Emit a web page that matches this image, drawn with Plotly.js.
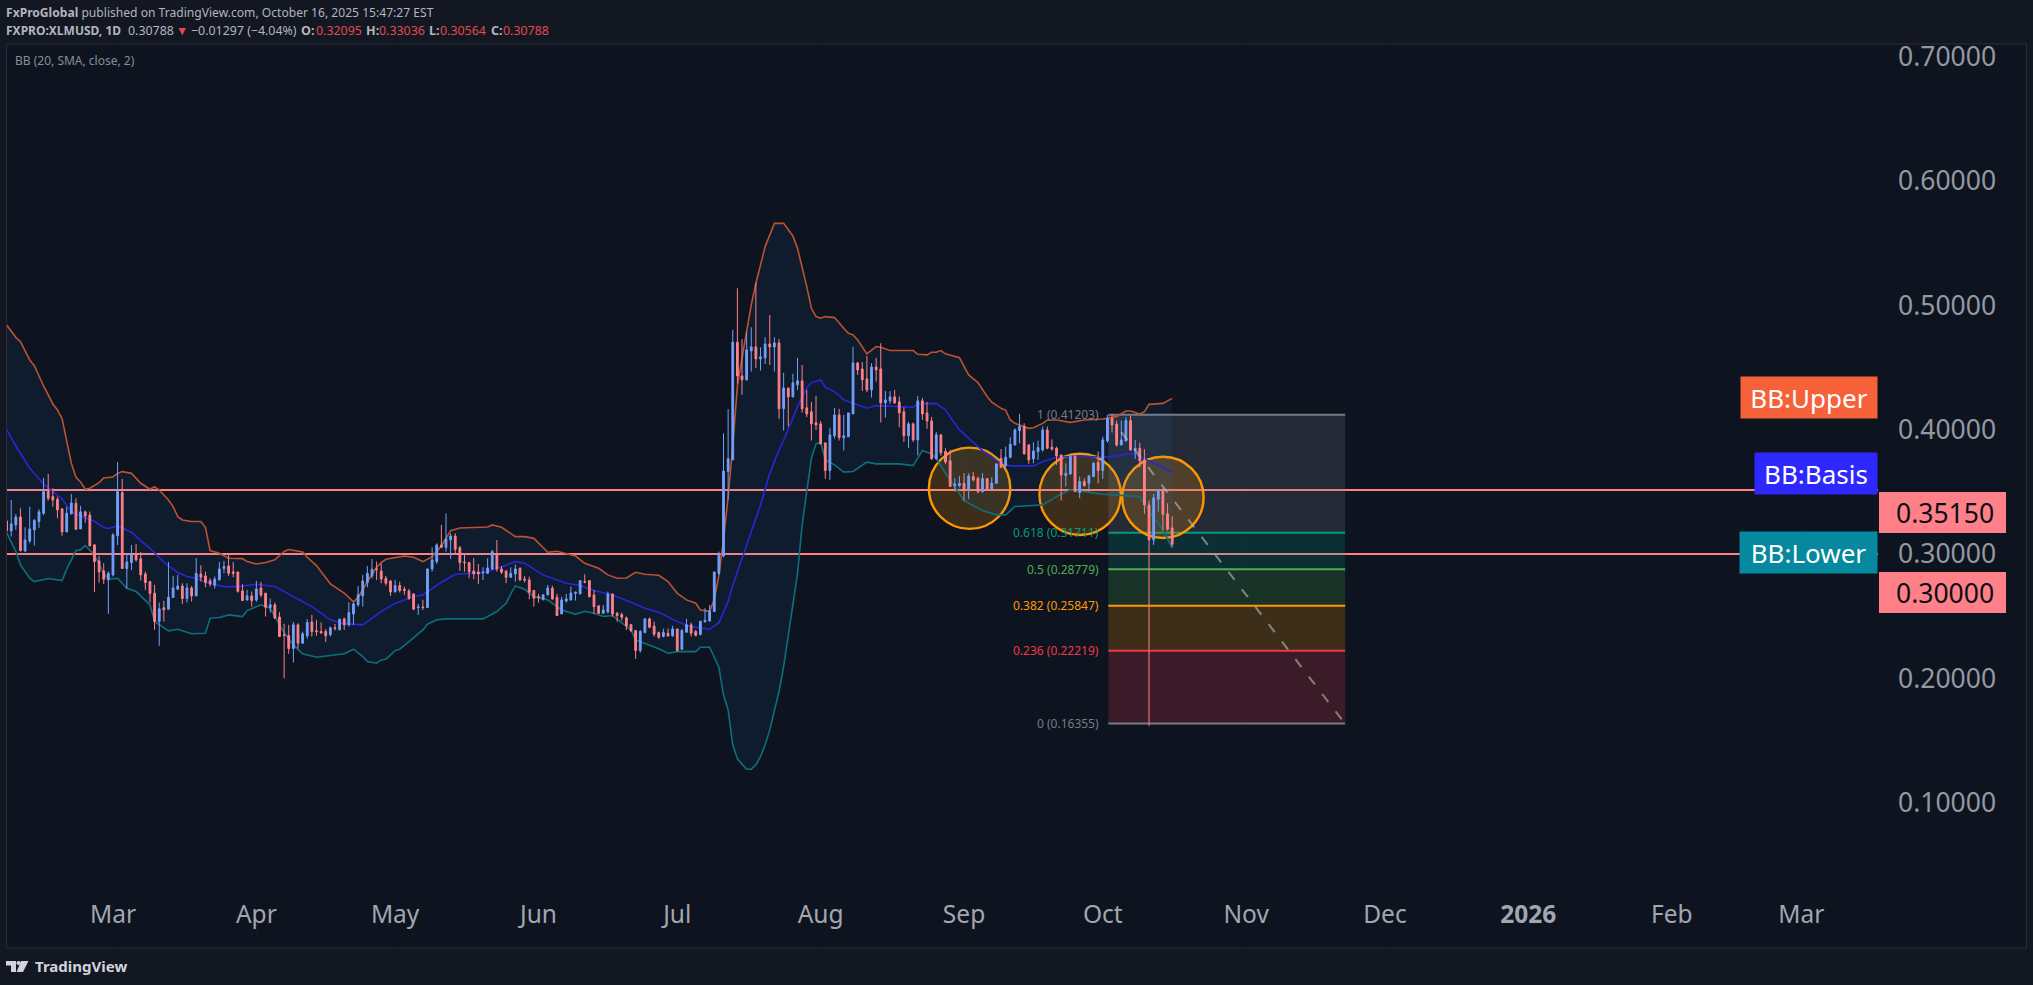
<!DOCTYPE html>
<html><head><meta charset="utf-8">
<script src="https://cdn.plot.ly/plotly-3.0.1.min.js"></script>
<style>html,body{margin:0;padding:0;background:#131722;overflow:hidden}#chart{width:2033px;height:985px}</style>
</head><body><div id="chart"></div>
<script>
const firstDay = Date.UTC(2025, 1, 6);
const openPrice = [.3266,.3186,.3234,.3298,.3025,.3105,.3194,.3261,.3328,.3502,
.3462,.3440,.3363,.3178,.3322,.3408,.3202,.3339,.3314,.3073,
.2945,.2864,.2792,.2832,.3146,.3494,.2883,.2931,.2993,.2961,
.2840,.2778,.2685,.2457,.2567,.2556,.2650,.2717,.2743,.2642,
.2727,.2663,.2840,.2824,.2784,.2749,.2792,.2883,.2904,.2856,
.2856,.2703,.2631,.2663,.2631,.2727,.2685,.2569,.2591,.2494,
.2350,.2344,.2240,.2430,.2283,.2342,.2454,.2382,.2376,.2376,
.2352,.2406,.2390,.2478,.2430,.2518,.2591,.2663,.2770,.2824,
.2880,.2864,.2805,.2783,.2695,.2746,.2716,.2703,.2679,.2569,
.2574,.2569,.2880,.2939,.3073,.3054,.3113,.3145,.3051,.2936,
.2931,.2864,.2856,.2848,.2845,.2880,.3000,.2880,.2864,.2813,
.2840,.2885,.2797,.2791,.2706,.2657,.2636,.2671,.2724,.2652,
.2518,.2622,.2631,.2684,.2679,.2778,.2786,.2671,.2582,.2523,
.2534,.2679,.2523,.2513,.2486,.2432,.2384,.2223,.2368,.2478,
.2421,.2368,.2336,.2362,.2341,.2397,.2234,.2371,.2430,.2376,
.2352,.2454,.2462,.2537,.2845,.2984,.3664,.3758,.4704,.4433,
.4401,.4634,.4666,.4570,.4578,.4690,.4666,.4698,.4168,.4336,
.4264,.4361,.4393,.4176,.4144,.4055,.4047,.3894,.3672,.3951,
.4119,.3935,.3943,.4127,.4537,.4489,.4409,.4320,.4505,.4489,
.4216,.4232,.4264,.4224,.4144,.3951,.4047,.3918,.4232,.4135,
.4071,.3766,.3959,.3825,.3750,.3548,.3550,.3569,.3516,.3623,
.3609,.3502,.3607,.3524,.3569,.3770,.3709,.3778,.3877,.3993,
.4025,.3877,.3765,.3824,.3837,.3998,.3859,.3851,.3797,.3631,
.3644,.3784,.3494,.3583,.3569,.3623,.3738,.3671,.3910,.4092,
.4046,.3877,.3910,.4073,.3832,.3851,.3757,.3395,.3114,.3441,
.3516,.3323,.32095];
const closePrice = [.3186,.3242,.3298,.3028,.3113,.3202,.3269,.3339,.3502,.3448,
.3435,.3355,.3178,.3328,.3411,.3199,.3339,.3306,.3065,.2939,
.2856,.2797,.2845,.3154,.3502,.2883,.2936,.2993,.2953,.2832,
.2770,.2682,.2457,.2559,.2551,.2652,.2727,.2743,.2642,.2727,
.2663,.2845,.2813,.2770,.2760,.2797,.2880,.2899,.2845,.2845,
.2701,.2626,.2663,.2626,.2719,.2671,.2572,.2591,.2484,.2336,
.2344,.2240,.2430,.2283,.2358,.2449,.2376,.2376,.2366,.2342,
.2406,.2401,.2476,.2430,.2529,.2599,.2671,.2783,.2845,.2877,
.2877,.2799,.2765,.2695,.2746,.2706,.2706,.2644,.2556,.2574,
.2569,.2880,.2952,.3073,.3054,.3121,.3145,.3038,.2931,.2931,
.2858,.2840,.2840,.2853,.2888,.3019,.2880,.2853,.2813,.2845,
.2880,.2791,.2791,.2692,.2644,.2652,.2671,.2727,.2639,.2505,
.2631,.2639,.2687,.2692,.2786,.2773,.2657,.2577,.2523,.2550,
.2679,.2518,.2505,.2491,.2421,.2381,.2223,.2376,.2478,.2411,
.2355,.2330,.2368,.2341,.2397,.2223,.2384,.2430,.2363,.2346,
.2459,.2467,.2542,.2856,.3000,.3668,.3766,.4704,.4433,.4401,
.4642,.4666,.4570,.4586,.4690,.4666,.4698,.4168,.4336,.4264,
.4377,.4393,.4168,.4127,.4047,.4039,.3886,.3672,.3959,.4119,
.3937,.3951,.4135,.4537,.4481,.4401,.4320,.4505,.4481,.4216,
.4240,.4264,.4216,.4136,.3951,.4047,.3918,.4232,.4127,.4071,
.3766,.3959,.3814,.3741,.3543,.3564,.3569,.3516,.3628,.3596,
.3502,.3607,.3524,.3569,.3725,.3698,.3778,.3883,.3998,.4025,
.3805,.3757,.3829,.3856,.3998,.3851,.3845,.3789,.3636,.3650,
.3784,.3502,.3583,.3550,.3628,.3730,.3671,.3918,.4092,.4038,
.3877,.3918,.4073,.3837,.3851,.3749,.3395,.3114,.3451,.3516,
.3320,.3199,.30788];
const highPrice = [.3280,.3435,.3320,.3368,.3215,.3379,.3282,.3360,.3612,.3644,
.3529,.3462,.3368,.3381,.3483,.3448,.3387,.3349,.3341,.3081,
.2985,.2926,.2859,.3167,.3741,.3604,.3006,.3073,.3081,.3017,
.2859,.2784,.2752,.2610,.2623,.2936,.2824,.2832,.2765,.2765,
.2743,.2969,.2910,.2859,.2805,.2819,.2936,.2945,.2993,.2936,
.2856,.2757,.2711,.2698,.2784,.2776,.2685,.2642,.2610,.2532,
.2438,.2430,.2454,.2443,.2376,.2476,.2510,.2470,.2449,.2395,
.2417,.2438,.2478,.2489,.2612,.2610,.2743,.2832,.2904,.2960,
.2939,.2925,.2824,.2791,.2791,.2778,.2738,.2719,.2684,.2598,
.2631,.2880,.3054,.3086,.3234,.3327,.3167,.3167,.3065,.2992,
.2931,.2968,.2920,.2893,.2966,.3033,.3113,.2904,.2864,.2893,
.2917,.2893,.2824,.2818,.2711,.2679,.2679,.2751,.2746,.2679,
.2657,.2679,.2738,.2698,.2791,.2837,.2791,.2711,.2590,.2590,
.2698,.2679,.2534,.2529,.2497,.2438,.2389,.2389,.2483,.2489,
.2456,.2376,.2400,.2400,.2421,.2397,.2397,.2478,.2448,.2389,
.2459,.2564,.2590,.2856,.3019,.3971,.4165,.4803,.5138,.4728,
.4787,.4824,.5183,.4663,.4744,.4923,.4744,.4728,.4457,.4336,
.4449,.4578,.4521,.4320,.4224,.4272,.4071,.3894,.4015,.4176,
.4168,.4119,.4135,.4666,.4545,.4545,.4594,.4535,.4578,.4696,
.4312,.4310,.4320,.4267,.4181,.4063,.4058,.4272,.4256,.4224,
.4103,.3983,.3959,.3851,.3838,.3609,.3628,.3650,.3650,.3660,
.3623,.3650,.3609,.3617,.3725,.3845,.3864,.3939,.4011,.4127,
.4052,.3885,.3899,.3912,.4025,.4025,.3923,.3864,.3797,.3730,
.3797,.3797,.3623,.3609,.3636,.3743,.3824,.3944,.4119,.4119,
.4073,.4073,.4100,.4111,.3918,.3896,.3843,.3430,.3483,.3516,
.3529,.3408,.33036];
const lowPrice = [.3170,.3140,.3194,.3020,.3017,.3087,.3068,.3210,.3314,.3430,
.3381,.3288,.3146,.3178,.3322,.3194,.3202,.3253,.3065,.2695,
.2770,.2760,.2518,.2819,.3073,.2883,.2722,.2872,.2939,.2786,
.2711,.2610,.2390,.2261,.2457,.2551,.2650,.2711,.2599,.2610,
.2618,.2663,.2778,.2733,.2738,.2722,.2786,.2845,.2824,.2813,
.2690,.2626,.2626,.2577,.2615,.2652,.2497,.2529,.2476,.2336,
.1999,.2197,.2127,.2240,.2277,.2320,.2336,.2342,.2358,.2293,
.2336,.2384,.2390,.2390,.2417,.2430,.2577,.2577,.2732,.2805,
.2791,.2765,.2746,.2663,.2692,.2690,.2671,.2631,.2550,.2510,
.2550,.2569,.2858,.2920,.3054,.3019,.2960,.3000,.2864,.2858,
.2805,.2797,.2759,.2791,.2840,.2872,.2858,.2840,.2765,.2808,
.2778,.2786,.2770,.2636,.2577,.2609,.2625,.2671,.2631,.2505,
.2518,.2609,.2625,.2625,.2679,.2765,.2652,.2518,.2518,.2523,
.2523,.2497,.2456,.2464,.2389,.2376,.2156,.2207,.2363,.2403,
.2336,.2317,.2330,.2336,.2336,.2215,.2229,.2368,.2336,.2336,
.2346,.2451,.2456,.2537,.2832,.2974,.3436,.3758,.4369,.4280,
.4395,.4468,.4495,.4476,.4529,.4521,.4468,.4087,.3993,.4026,
.4264,.4320,.4138,.4101,.3913,.3999,.3884,.3605,.3597,.3929,
.3913,.3833,.3943,.4127,.4441,.4312,.4302,.4259,.4387,.4058,
.4098,.4208,.4208,.4020,.3902,.3854,.3902,.3795,.4079,.4007,
.3758,.3758,.3790,.3725,.3543,.3502,.3537,.3430,.3441,.3583,
.3489,.3494,.3516,.3521,.3569,.3690,.3698,.3770,.3877,.3891,
.3802,.3725,.3730,.3757,.3824,.3843,.3832,.3717,.3430,.3542,
.3636,.3502,.3449,.3542,.3502,.3617,.3569,.3604,.3896,.3977,
.3864,.3877,.3904,.3832,.3765,.3698,.3323,.1616,.3073,.3341,
.3189,.3189,.30564];

const upperDay = [0,2,3,5,6,8,10,11,12,13,14,15,16,17,18,20,21,23,24,25,27,29,31,32,33,35,36,37,38,40,42,43,44,46,48,51,52,54,56,58,60,61,64,65,67,70,73,75,76,78,80,81,82,86,88,90,92,94,96,98,104,105,107,110,112,114,117,119,123,125,128,130,132,134,136,138,141,143,145,147,149,150,152,153,154,155,156,157,158,159,160,161,162,164,166,168,170,171,173,174,175,176,177,179,181,182,183,184,186,188,189,191,196,197,199,200,201,202,203,206,208,210,212,213,215,216,217,218,219,221,222,224,225,227,230,233,237,240,242,243,245,246,247,250,252];
const upperBand = [.4842,.4743,.4708,.4561,.4515,.4352,.4207,.4159,.4089,.3917,.3730,.3617,.3580,.3521,.3529,.3574,.3612,.3620,.3649,.3663,.3649,.3569,.3521,.3542,.3515,.3435,.3381,.3301,.3274,.3261,.3261,.3213,.3028,.3006,.2966,.2963,.2939,.2920,.2931,.2953,.3020,.3036,.3017,.2974,.2907,.2760,.2685,.2615,.2650,.2778,.2893,.2931,.2958,.2984,.2974,.2939,.2979,.3065,.3188,.3209,.3217,.3234,.3215,.3140,.3140,.3126,.3014,.3022,.2984,.2925,.2885,.2832,.2805,.2807,.2853,.2837,.2829,.2778,.2684,.2631,.2604,.2550,.2539,.2631,.2832,.3113,.3461,.3870,.4353,.4575,.4803,.5004,.5178,.5473,.5660,.5660,.5559,.5459,.5151,.4977,.4910,.4897,.4910,.4902,.4816,.4776,.4763,.4722,.4610,.4669,.4663,.4637,.4637,.4607,.4602,.4623,.4623,.4637,.4610,.4580,.4441,.4379,.4267,.4221,.4172,.4158,.4078,.4051,.4038,.4011,.4016,.4051,.4078,.4078,.4059,.4078,.4086,.4105,.4150,.4150,.4126,.4145,.4204,.4212,.4252];
const basisDay = [0,2,5,8,12,14,16,19,21,22,24,27,29,31,34,37,39,41,44,47,50,54,58,60,62,66,70,73,77,79,81,84,88,90,94,97,100,103,107,110,112,116,121,124,127,131,135,138,141,145,148,152,154,155,156,157,158,159,160,161,162,163,164,165,166,167,168,171,173,174,176,177,179,181,183,186,188,196,197,201,203,206,211,214,217,222,224,227,232,237,240,242,244,246,249,252];
const basisBand = [.4003,.3869,.3690,.3564,.3443,.3341,.3306,.3263,.3213,.3205,.3226,.3175,.3108,.3046,.2934,.2851,.2819,.2805,.2760,.2738,.2738,.2757,.2738,.2698,.2658,.2577,.2470,.2438,.2430,.2483,.2537,.2604,.2657,.2671,.2773,.2837,.2845,.2850,.2896,.2939,.2925,.2832,.2765,.2746,.2706,.2671,.2612,.2564,.2531,.2456,.2416,.2395,.2448,.2537,.2617,.2746,.2858,.2952,.3073,.3193,.3287,.3394,.3515,.3649,.3743,.3837,.3913,.4186,.4334,.4379,.4401,.4342,.4307,.4240,.4213,.4173,.4194,.4181,.4208,.4212,.4159,.3998,.3832,.3749,.3709,.3709,.3743,.3778,.3789,.3778,.3789,.3805,.3805,.3765,.3717,.3658];
const lowerDay = [0,2,3,5,6,9,12,13,15,16,17,19,21,22,24,26,28,31,32,35,37,40,43,44,46,48,51,52,55,57,58,60,62,64,67,70,73,75,77,78,80,81,82,84,85,87,90,91,93,95,103,106,108,109,110,112,114,117,118,120,123,125,127,129,131,135,136,138,141,143,145,149,150,152,154,155,156,157,158,159,160,161,162,163,164,165,166,167,168,169,170,171,172,173,174,175,176,177,179,181,183,186,188,193,196,198,200,201,203,205,207,211,214,216,218,224,227,230,233,237,245,247,250,252];
const lowerBand = [.3172,.3020,.2912,.2805,.2778,.2803,.2786,.2878,.3028,.3033,.3068,.2993,.2845,.2797,.2805,.2725,.2698,.2591,.2457,.2382,.2395,.2358,.2363,.2484,.2489,.2510,.2497,.2545,.2591,.2564,.2497,.2368,.2269,.2197,.2170,.2186,.2197,.2234,.2175,.2135,.2121,.2148,.2154,.2223,.2234,.2296,.2389,.2435,.2470,.2478,.2478,.2537,.2604,.2679,.2743,.2716,.2657,.2631,.2604,.2550,.2515,.2539,.2523,.2497,.2505,.2389,.2309,.2282,.2237,.2202,.2215,.2215,.2250,.2250,.2089,.1867,.1746,.1465,.1352,.1309,.1269,.1269,.1304,.1371,.1465,.1585,.1746,.1894,.2095,.2336,.2604,.2845,.3234,.3515,.3770,.3886,.3897,.3758,.3717,.3659,.3664,.3739,.3725,.3725,.3711,.3832,.3805,.3770,.3650,.3542,.3430,.3349,.3315,.3315,.3382,.3395,.3462,.3516,.3502,.3481,.3462,.3341,.3194,.3047];

const priceTicks = [0.1,0.2,0.3,0.4,0.5,0.6,0.7];
const priceTickText = ['0.10000','0.20000','0.30000','0.40000','0.50000','0.60000','0.70000'];
const monthTicks = ['2025-03-01','2025-04-01','2025-05-01','2025-06-01','2025-07-01','2025-08-01','2025-09-01','2025-10-01','2025-11-01','2025-12-01','2026-01-01','2026-02-01','2026-03-01'];
const monthTickText = ['Mar','Apr','May','Jun','Jul','Aug','Sep','Oct','Nov','Dec','<b>2026</b>','Feb','Mar'];

const horizontalLevels = [0.3515, 0.30];
const fibRatios = ['1','0.618','0.5','0.382','0.236','0'];
const fibPrices = [0.41203,0.31711,0.28779,0.25847,0.22219,0.16355];
const fibLineColors = ['#787b86','#089981','#4caf50','#ff9800','#f23645','#787b86'];
const fibFillColors = ['rgba(120,123,134,0.22)','rgba(8,153,129,0.2)','rgba(76,175,80,0.2)','rgba(255,152,0,0.2)','rgba(242,54,69,0.2)'];
const fibStartDay = 238.2, fibEndDay = 289.4;
const circleDays = [208.2, 232.1, 250];
const circlePrices = [0.3529, 0.3480, 0.3456];
const circleDayRadius = 8.8, circlePriceRadius = 0.0327;
const projectionDays = [241, 288.7];
const projectionPrices = [0.398, 0.1667];

const PLOT_L = 7, PLOT_R = 1878, PLOT_T = 44, PLOT_B = 890;
const px = x => (x - PLOT_L) / (PLOT_R - PLOT_L);
const py = y => 1 - (y - PLOT_T) / (PLOT_B - PLOT_T);
const dayToDate = d => new Date(firstDay + d * 86400000).toISOString();
const dates = openPrice.map((_, i) => dayToDate(i));

const FONT = '"Noto Sans", "Open Sans", sans-serif';
const PANEL = '#0d1420', OUTER = '#131722';

const traces = [
  {type:'scatter',mode:'lines',x:lowerDay.map(dayToDate),y:lowerBand,line:{color:'#0e6f7c',width:1.6},zorder:-1,hoverinfo:'skip'},
  {type:'scatter',mode:'lines',x:upperDay.map(dayToDate),y:upperBand,line:{color:'#bb5230',width:1.6},fill:'tonexty',fillcolor:'rgba(33,150,243,0.065)',zorder:-1,hoverinfo:'skip'},
  {type:'scatter',mode:'lines',x:basisDay.map(dayToDate),y:basisBand,line:{color:'#2a26d8',width:1.6},zorder:-1,hoverinfo:'skip'},
  {type:'candlestick',x:dates,open:openPrice,high:highPrice,low:lowPrice,close:closePrice,
   increasing:{line:{color:'#74a0fa',width:1},fillcolor:'#74a0fa'},
   decreasing:{line:{color:'#ff8088',width:1},fillcolor:'#ff8088'},whiskerwidth:0,hoverinfo:'skip'}
];

const shapes = [
  {type:'rect',xref:'paper',yref:'paper',x0:px(6.5),x1:px(2026.5),y0:py(44),y1:py(948),fillcolor:PANEL,line:{color:'#2a2e39',width:1},layer:'below'},
];
monthTicks.forEach(t => shapes.push({type:'line',xref:'x',yref:'paper',x0:t,x1:t,y0:py(948),y1:py(44),line:{color:'#101824',width:1},layer:'below'}));
horizontalLevels.forEach(v => shapes.push({type:'line',xref:'x',yref:'y',x0:dayToDate(-2),x1:dayToDate(410),y0:v,y1:v,line:{color:'#ff8088',width:2.2},layer:'below'}));
fibFillColors.forEach((c,k) => shapes.push({type:'rect',xref:'x',yref:'y',x0:dayToDate(fibStartDay),x1:dayToDate(fibEndDay),y0:fibPrices[k],y1:fibPrices[k+1],fillcolor:c,line:{width:0},layer:'below'}));
fibPrices.forEach((p,k) => shapes.push({type:'line',xref:'x',yref:'y',x0:dayToDate(fibStartDay),x1:dayToDate(fibEndDay),y0:p,y1:p,line:{color:fibLineColors[k],width:2},layer:'below'}));
circleDays.forEach((d,k) => shapes.push({type:'circle',xref:'x',yref:'y',x0:dayToDate(d-circleDayRadius),x1:dayToDate(d+circleDayRadius),y0:circlePrices[k]-circlePriceRadius,y1:circlePrices[k]+circlePriceRadius,fillcolor:'rgba(255,152,0,0.2)',line:{color:'#ff9800',width:2.4},layer:'below'}));
shapes.push({type:'line',xref:'x',yref:'y',x0:dayToDate(projectionDays[0]),x1:dayToDate(projectionDays[1]),y0:projectionPrices[0],y1:projectionPrices[1],line:{color:'rgba(190,190,190,0.6)',width:2,dash:'10px,12px'},layer:'above'});
// price tags in the scale
[[1879,2006,492,533],[1879,2006,572,613]].forEach(r => shapes.push({type:'rect',xref:'paper',yref:'paper',x0:px(r[0]),x1:px(r[1]),y0:py(r[2]),y1:py(r[3]),fillcolor:'#ff8088',line:{width:0},layer:'above'}));
// TradingView logo
const P = (x,y) => px(x)+','+py(y);
shapes.push({type:'path',xref:'paper',yref:'paper',path:'M'+P(6,961)+' L'+P(16,961)+' L'+P(16,972)+' L'+P(11,972)+' L'+P(11,965.5)+' L'+P(6,965.5)+' Z',fillcolor:'#d1d4dc',line:{width:0},layer:'above'});
shapes.push({type:'path',xref:'paper',yref:'paper',path:'M'+P(21,961)+' L'+P(28.5,961)+' L'+P(23,972)+' L'+P(16.5,972)+' Z',fillcolor:'#d1d4dc',line:{width:0},layer:'above'});
shapes.push({type:'circle',xref:'paper',yref:'paper',x0:px(16.4),x1:px(20.6),y0:py(965),y1:py(961),fillcolor:'#d1d4dc',line:{width:0},layer:'above'});

const note = (x,y,text,size,color,anchor,extra) => Object.assign({xref:'paper',yref:'paper',x:px(x),y:py(y),text,showarrow:false,xanchor:anchor||'left',yanchor:'middle',align:anchor||'left',font:{family:FONT,size,color},borderpad:0},extra||{});
const RED = '#e04a4e', HEAD = '#b2b5be';
const annotations = [
  note(5,12.5,'<b>FxProGlobal</b> published on TradingView.com, October 16, 2025 15:47:27 EST',12.1,HEAD),
  note(5,30,'<b>FXPRO:XLMUSD, 1D</b>',12,HEAD),
  note(127,30,'0.30788',12.4,HEAD),
  note(175,30,'▼',12.4,RED),
  note(190,30,'−0.01297 (−4.04%)',12.4,HEAD),
  note(300,30,'<b>O:</b>',12.6,HEAD), note(315,30,'0.32095',12.4,RED),
  note(365,30,'<b>H:</b>',12.6,HEAD), note(378,30,'0.33036',12.4,RED),
  note(428,30,'<b>L:</b>',12.6,HEAD), note(438.5,30,'0.30564',12.4,RED),
  note(490,30,'<b>C:</b>',12.6,HEAD), note(502,30,'0.30788',12.4,RED),
  note(14,60.5,'BB (20, SMA, close, 2)',12,'#8a8d96'),
  note(1878,397.5,'BB:Upper',26,'#ffffff','right',{width:136,height:41,bgcolor:'#f6613a',align:'center'}),
  note(1878,473.5,'BB:Basis',26,'#ffffff','right',{width:122,height:41,bgcolor:'#2e27ff',align:'center'}),
  note(1878,552.5,'BB:Lower',26,'#ffffff','right',{width:137,height:41,bgcolor:'#06889e',align:'center'}),
  note(1995,512.5,'0.35150',26.5,'#0b0e14','right'),
  note(1995,592.5,'0.30000',26.5,'#0b0e14','right'),
  note(34,966,'<b>TradingView</b>',15,'#d1d4dc'),
];
fibPrices.forEach((p,k) => annotations.push({xref:'x',yref:'y',x:dayToDate(236.7),y:p,text:fibRatios[k]+' ('+p.toFixed(5)+')',showarrow:false,xanchor:'right',yanchor:'middle',font:{family:FONT,size:12,color:fibLineColors[k]}}));

const layout = {
  width:2033,height:985,
  margin:{l:PLOT_L,r:2033-PLOT_R,t:PLOT_T,b:985-PLOT_B,pad:0},
  paper_bgcolor:OUTER,plot_bgcolor:'rgba(0,0,0,0)',showlegend:false,hovermode:false,
  boxgap:0.45,
  font:{family:FONT},
  xaxis:{type:'date',range:[dayToDate(0.09),dayToDate(404.6)],tickmode:'array',tickvals:monthTicks,ticktext:monthTickText,
    showgrid:false,zeroline:false,showline:false,ticks:'',rangeslider:{visible:false},
    tickfont:{family:FONT,size:24.5,color:'#a3a6af'},ticklabelstandoff:7,automargin:false},
  yaxis:{side:'right',range:[0.0297,0.7103],tickmode:'array',tickvals:priceTicks,ticktext:priceTickText,
    showgrid:false,zeroline:false,showline:false,ticks:'',
    tickfont:{family:FONT,size:26.5,color:'#9598a1'},ticklabelstandoff:19,ticklabelshift:-1.5,automargin:false},
  shapes,annotations
};
Plotly.newPlot('chart',traces,layout,{displayModeBar:false,staticPlot:true});
</script></body></html>
